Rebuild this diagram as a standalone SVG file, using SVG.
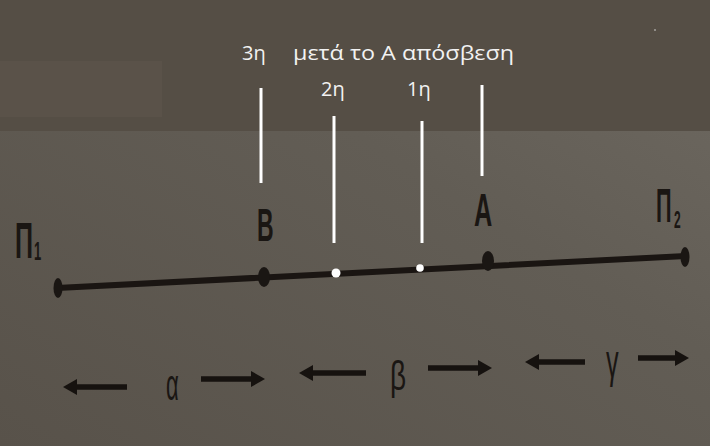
<svg xmlns="http://www.w3.org/2000/svg" width="710" height="446" viewBox="0 0 710 446">
<defs>
<linearGradient id="bg" x1="0" y1="1" x2="1" y2="0">
<stop offset="0" stop-color="#58524a"/>
<stop offset="0.6" stop-color="#625d55"/>
<stop offset="1" stop-color="#6e6961"/>
</linearGradient>
<style>
.note{font-family:"Open Sans","Noto Sans","DejaVu Sans",sans-serif;font-size:20px;fill:#f2f2f2}
.lbl{font-family:"Liberation Sans","DejaVu Sans",sans-serif;font-weight:bold;fill:#1a1613}
.greek{font-family:"Liberation Sans","DejaVu Sans",sans-serif;fill:#1a1613}
.wl{stroke:#ffffff;stroke-width:3}
.arr{stroke:#16120f;stroke-width:5.5;fill:none}
.head{fill:#16120f}
.dot{fill:#1a1613}
</style>
</defs>
<rect x="0" y="0" width="710" height="446" fill="url(#bg)"/>
<rect x="0" y="0" width="710" height="131" fill="#554e45"/>
<rect x="0" y="61" width="162" height="56" fill="#5a5249"/>
<circle cx="655" cy="30" r="0.8" fill="#dddddd"/>

<g id="connectors">
<path d="M57 288 L686 256" stroke="#1a1512" stroke-width="6" fill="none" stroke-linecap="round"/>
<line class="wl" x1="261" y1="88" x2="261" y2="183"/>
<line class="wl" x1="334" y1="116" x2="334" y2="243"/>
<line class="wl" x1="422" y1="121" x2="422" y2="243"/>
<line class="wl" x1="482" y1="85" x2="482" y2="176"/>
<g id="arrow-a-left"><line class="arr" x1="74" y1="387" x2="127" y2="387"/><path class="head" d="M63 387 L77 379 L77 395 Z"/></g>
<g id="arrow-a-right"><line class="arr" x1="201" y1="379" x2="254" y2="379"/><path class="head" d="M265 379 L251 371 L251 387 Z"/></g>
<g id="arrow-b-left"><line class="arr" x1="310" y1="373" x2="366" y2="373"/><path class="head" d="M299 373 L313 365 L313 381 Z"/></g>
<g id="arrow-b-right"><line class="arr" x1="428" y1="368" x2="481" y2="368"/><path class="head" d="M492 368 L478 360 L478 376 Z"/></g>
<g id="arrow-g-left"><line class="arr" x1="536" y1="362" x2="585" y2="362"/><path class="head" d="M525 362 L539 354 L539 370 Z"/></g>
<g id="arrow-g-right"><line class="arr" x1="638" y1="358" x2="678" y2="358"/><path class="head" d="M689 358 L675 350 L675 366 Z"/></g>
</g>

<g id="node-P1">
<ellipse class="dot" cx="58" cy="288" rx="4.5" ry="10"/>
<text class="lbl" transform="translate(15,258) scale(0.5,1)" font-size="50">Π</text>
<text class="lbl" transform="translate(34,260) scale(0.5,1)" font-size="26">1</text>
</g>
<g id="node-B">
<ellipse class="dot" cx="264" cy="277" rx="6" ry="10"/>
<text class="lbl" transform="translate(257,241) scale(0.5,1)" font-size="46">B</text>
</g>
<g id="node-A">
<ellipse class="dot" cx="488" cy="261" rx="6" ry="10"/>
<text class="lbl" transform="translate(474,226) scale(0.55,1)" font-size="46">A</text>
</g>
<g id="node-P2">
<ellipse class="dot" cx="685" cy="257" rx="4.5" ry="10"/>
<text class="lbl" transform="translate(656,222) scale(0.45,1)" font-size="48">Π</text>
<text class="lbl" transform="translate(674,228) scale(0.5,1)" font-size="24">2</text>
</g>
<g id="point-2">
<circle cx="336" cy="273" r="4.5" fill="#ffffff"/>
</g>
<g id="point-1">
<circle cx="420" cy="268" r="3.8" fill="#ffffff"/>
</g>

<g id="labels">
<text class="note" x="242" y="60">3η</text>
<text class="note" x="293" y="60" textLength="221" lengthAdjust="spacingAndGlyphs">μετά το Α απόσβεση</text>
<text class="note" x="321" y="96">2η</text>
<text class="note" x="407" y="96">1η</text>
<text class="greek" transform="translate(166,400) scale(0.5,1)" font-size="44">α</text>
<text class="greek" transform="translate(390,390) scale(0.7,1)" font-size="40">β</text>
<text class="greek" transform="translate(606,377) scale(0.55,1)" font-size="46">γ</text>
</g>
</svg>
